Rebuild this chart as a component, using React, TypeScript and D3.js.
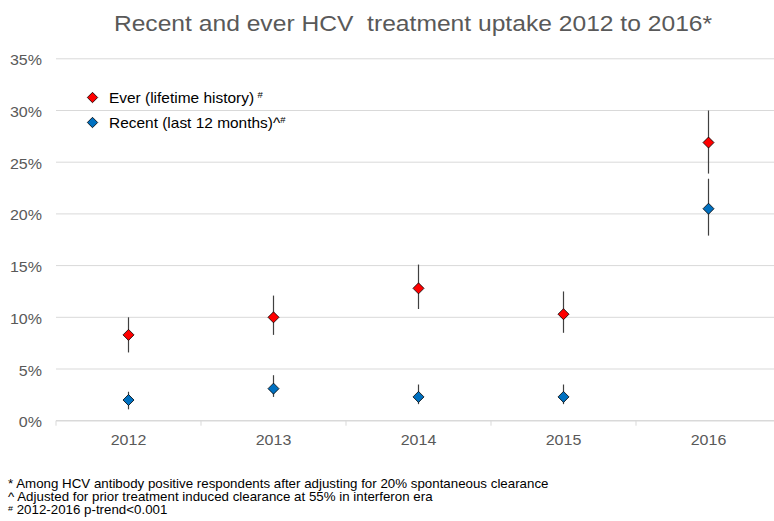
import React from "react";
import * as d3 from "d3";

const years = ["2012", "2013", "2014", "2015", "2016"];
const everValues = [8.3, 10.0, 12.8, 10.3, 26.9];
const everLower = [6.6, 8.3, 10.8, 8.5, 23.9];
const everUpper = [10.0, 12.1, 15.1, 12.5, 30.0];
const recentValues = [2.0, 3.1, 2.3, 2.3, 20.5];
const recentLower = [1.1, 2.3, 1.6, 1.6, 17.9];
const recentUpper = [2.8, 4.4, 3.5, 3.5, 23.4];
const yTicks = [0, 5, 10, 15, 20, 25, 30, 35];
const titleText = "Recent and ever HCV  treatment uptake 2012 to 2016*";
const legendLabels = ["Ever (lifetime history)", "Recent (last 12 months)^"];
const footnotes = [
  { sup: "*", text: " Among HCV antibody positive respondents after adjusting for 20% spontaneous clearance", small: false },
  { sup: "^", text: " Adjusted for prior treatment induced clearance at 55% in interferon era", small: false },
  { sup: "#", text: " 2012-2016 p-trend<0.001", small: true },
];

const W = 774;
const H = 521;
const left = 56;
const right = 781;
const top = 58.8;
const bottom = 420.7;
const SX = 1.12;

const EVER_COLOR = "#FF0000";
const RECENT_COLOR = "#0070C0";
const TEXT = "#595959";
const FONT = "'Liberation Sans', Arial, sans-serif";

function diamond(cx: number, cy: number, r: number) {
  return `M${cx},${cy - r}L${cx + r},${cy}L${cx},${cy + r}L${cx - r},${cy}Z`;
}

function T(props: { x: number; y: number; size: number; anchor?: string; fill?: string; children: React.ReactNode }) {
  return (
    <text
      transform={`translate(${props.x},${props.y}) scale(${SX},1)`}
      fontSize={props.size}
      textAnchor={props.anchor || "start"}
      fill={props.fill || "#000"}
      style={{ whiteSpace: "pre" }}
    >
      {props.children}
    </text>
  );
}

export default function App() {
  const x = d3.scaleBand<string>().domain(years).range([left, right]).padding(0);
  const y = d3.scaleLinear().domain([0, 35]).range([bottom, top]);
  const bw = x.bandwidth();
  const cx = (yr: string) => (x(yr) as number) + bw / 2;

  const series = [
    { values: everValues, lo: everLower, hi: everUpper, color: EVER_COLOR },
    { values: recentValues, lo: recentLower, hi: recentUpper, color: RECENT_COLOR },
  ];

  return (
    <svg width={W} height={H} style={{ position: "absolute", left: 0, top: 0 }} fontFamily={FONT}>
      <rect x={0} y={0} width={W} height={H} fill="#fff" />
      <T x={413} y={31} size={22} anchor="middle" fill={TEXT}>
        {titleText}
      </T>
      {yTicks.map((t) => (
        <g key={t}>
          <line x1={left} x2={right} y1={y(t)} y2={y(t)} stroke="#D9D9D9" strokeWidth={t === 0 ? 1.5 : 1} />
          <T x={42} y={y(t) + 6.5} size={14.3} anchor="end" fill={TEXT}>
            {t}%
          </T>
        </g>
      ))}
      {years.map((yr, i) => (
        <line key={"tk" + i} x1={x(yr) as number} x2={x(yr) as number} y1={bottom} y2={bottom + 5} stroke="#D9D9D9" strokeWidth={1} />
      ))}
      {years.map((yr) => (
        <T key={"xl" + yr} x={cx(yr)} y={444.5} size={14.3} anchor="middle" fill={TEXT}>
          {yr}
        </T>
      ))}
      {series.map((s, si) => (
        <g key={"s" + si}>
          {years.map((yr, i) => (
            <line key={"e" + i} x1={cx(yr)} x2={cx(yr)} y1={y(s.lo[i])} y2={y(s.hi[i])} stroke="#404040" strokeWidth={1.2} />
          ))}
          {years.map((yr, i) => (
            <path key={"m" + i} d={diamond(cx(yr), y(s.values[i]), 5.5)} fill={s.color} stroke="#000" strokeWidth={0.8} />
          ))}
        </g>
      ))}
      {series.map((s, si) => (
        <g key={"lg" + si}>
          <path d={diamond(92.5, 97.5 + si * 25, 5.2)} fill={s.color} stroke="#000" strokeWidth={0.8} />
          <T x={109} y={102.5 + si * 25.5} size={13.8} fill="#000">
            {legendLabels[si]}
            <tspan fontSize={8.5} dx={si === 0 ? 3 : 0} dy={-5}>#</tspan>
          </T>
        </g>
      ))}
      {footnotes.map((f, i) => (
        <T key={"fn" + i} x={8} y={488 + i * 13} size={11.9} fill="#000">
          {f.small ? <tspan fontSize={8} dy={-3}>{f.sup}</tspan> : <tspan>{f.sup}</tspan>}
          <tspan dy={f.small ? 3 : 0}>{f.text}</tspan>
        </T>
      ))}
    </svg>
  );
}
